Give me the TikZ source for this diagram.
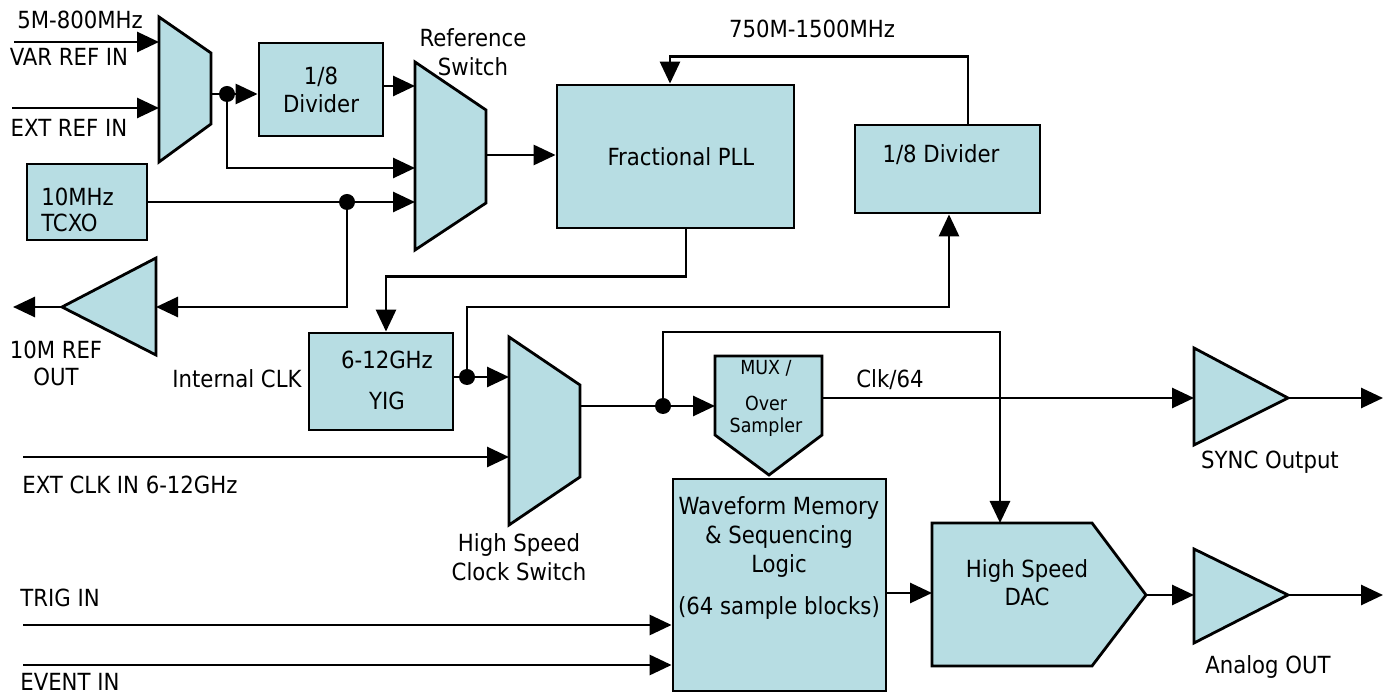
\documentclass[tikz,border=0pt]{standalone}
\usepackage{fontspec}
\setmainfont{DejaVu Sans Condensed}
\usetikzlibrary{arrows.meta}
\definecolor{boxfill}{RGB}{183,221,227}
\begin{document}
\begin{tikzpicture}[x=0.5pt,y=-0.5pt,
  wire/.style={line width=1.4pt},
  arr/.style={wire,-{Triangle[length=11pt,width=10pt]}},
  blk/.style={draw,fill=boxfill,line width=1.4pt,inner sep=0pt,font=\fontsize{11.8}{14}\selectfont,align=center},
  shp/.style={draw,fill=boxfill,line width=1.4pt},
  jdot/.style={circle,fill=black,inner sep=0pt,minimum size=8pt},
  lbl/.style={inner sep=0pt,font=\fontsize{11.8}{14}\selectfont,align=center},
  small/.style={inner sep=0pt,font=\fontsize{9.7}{11}\selectfont,align=center}]
\useasboundingbox (0,0) rectangle (1387,694);

% ---- shapes ----
\draw[shp] (159,17) -- (211,53) -- (211,124) -- (159,162) -- cycle;       % input mux
\draw[shp] (415,62) -- (486,110) -- (486,203) -- (415,250) -- cycle;      % reference switch
\draw[shp] (509,337) -- (580,385) -- (580,477) -- (509,525) -- cycle;     % high speed clock switch
\draw[shp] (156,258) -- (62,307) -- (156,355) -- cycle;                   % 10M ref amp
\draw[shp] (1194,348) -- (1288,398) -- (1194,445) -- cycle;               % sync amp
\draw[shp] (1194,549) -- (1288,595) -- (1194,643) -- cycle;               % analog amp
\draw[shp] (715,356) -- (822,356) -- (822,435) -- (769,475) -- (715,435) -- cycle; % mux/oversampler
\draw[shp] (932,523) -- (1092,523) -- (1146,595) -- (1092,666) -- (932,666) -- cycle; % DAC

\node[blk,minimum width=62pt,minimum height=46.5pt] (div1) at (321,89.5) {1/8\\Divider};
\node[blk,minimum width=60pt,minimum height=38pt] (tcxo) at (87,202) {};
\node[blk,minimum width=118.5pt,minimum height=71.5pt] (pll) at (675.5,156.5) {};
\node[blk,minimum width=92.5pt,minimum height=44pt] (div2) at (947.5,169) {};
\node[blk,minimum width=72pt,minimum height=48.5pt] (yig) at (381,381.5) {};
\node[blk,minimum width=106.5pt,minimum height=106pt] (wf) at (779.5,585) {};

% ---- texts inside ----
\node[lbl,align=left,anchor=west] (tcxotxt) at (41,210) {10MHz\\[-1pt]TCXO};
\node[lbl] (plltxt) at (681,157) {Fractional PLL};
\node[lbl] (div2txt) at (941,155) {1/8 Divider};
\node[lbl] (yigtxt) at (387,380.5) {6-12GHz\\[6.5pt]YIG};
\node[lbl] (wftxt) at (779,558) {Waveform Memory\\[0.5pt]\&\ Sequencing\\[0.5pt]Logic\\[7pt](64 sample blocks)};
\node[small] (muxt1) at (766,368) {MUX /};
\node[small] (muxt2) at (766,403) {Over};
\node[small] (muxt3) at (766,427) {Sampler};
\node[lbl] (dactxt) at (1027,583) {High Speed\\DAC};

% ---- outside labels ----
\node[lbl] (t5m) at (80,20) {5M-800MHz};
\node[lbl] (tvar) at (69,57) {VAR REF IN};
\node[lbl] (text) at (69,128) {EXT REF IN};
\node[lbl] (tref) at (473,52) {Reference\\[0.5pt]Switch};
\node[lbl] (t750) at (812,29) {750M-1500MHz};
\node[lbl] (t10m) at (56,363) {10M REF\\[-0.5pt]OUT};
\node[lbl] (tint) at (237,379) {Internal CLK};
\node[lbl,anchor=west] (textclk) at (22,485) {EXT CLK IN 6-12GHz};
\node[lbl] (ths) at (519,557) {High Speed\\[0.5pt]Clock Switch};
\node[lbl,anchor=west] (ttrig) at (20,598) {TRIG IN};
\node[lbl,anchor=west] (tevent) at (20,682) {EVENT IN};
\node[lbl] (tclk) at (890,380) {Clk/64};
\node[lbl] (tsync) at (1270,462) {SYNC Output};
\node[lbl] (tana) at (1268,667) {Analog OUT};

% ---- ports and junctions ----
\coordinate (varin) at (14,42);
\coordinate (extin) at (12,108);
\coordinate (m1a) at (159,42);
\coordinate (m1b) at (159,108);
\coordinate (m1o) at (211,94);
\node[jdot] (d1) at (227,94) {};
\coordinate (rs1) at (415,86);
\coordinate (rs2) at (415,168);
\coordinate (rs3) at (415,202);
\coordinate (rso) at (486,155);
\node[jdot] (d2) at (347,202) {};
\coordinate (ampin) at (156,307);
\coordinate (ampout) at (62,307);
\coordinate (refout) at (13,307);
\coordinate (hsa) at (509,377);
\coordinate (hsb) at (509,457);
\coordinate (hso) at (580,406);
\coordinate (extclk) at (23,457);
\node[jdot] (d3) at (467,377) {};
\node[jdot] (d4) at (663,406) {};
\coordinate (muxin) at (715,406);
\coordinate (muxout) at (822,398);
\coordinate (syncin) at (1194,398);
\coordinate (syncout) at (1288,398);
\coordinate (syncend) at (1383,398);
\coordinate (dactop) at (1000,523);
\coordinate (dacin) at (932,593);
\coordinate (dacout) at (1146,595);
\coordinate (anain) at (1194,595);
\coordinate (anaout) at (1288,595);
\coordinate (anaend) at (1383,595);
\coordinate (trig) at (23,625);
\coordinate (event) at (23,665);

% ---- connectors ----
\draw[arr] (varin) -- (m1a);
\draw[arr] (extin) -- (m1b);
\draw[arr] (m1o) -- (m1o -| div1.west);
\draw[arr] (d1.center) |- (rs2);
\draw[arr] (div1.east |- rs1) -- (rs1);
\draw[arr] (tcxo.east) -- (rs3);
\draw[arr] (d2.center) |- (ampin);
\draw[arr] (ampout) -- (refout);
\draw[arr] (rso) -- (rso -| pll.west);
\draw[arr] ([xshift=5.25pt]pll.south) -- ++(0,47) -| ([xshift=2.5pt]yig.north);
\draw[arr] ([xshift=10.25pt]div2.north) -- ++(0,-67) -| ([xshift=-2.75pt]pll.north);
\draw[arr] (yig.east |- hsa) -- (hsa);
\draw[arr] (d3.center) -- ++(0,-70) -| ([xshift=0.75pt]div2.south);
\draw[arr] (extclk) -- (hsb);
\draw[wire] (hso) -- (d4.center);
\draw[arr] (d4.center) -- (muxin);
\draw[arr] (d4.center) -- ++(0,-74) -| (dactop);
\draw[arr] (muxout) -- (syncin);
\draw[arr] (syncout) -- (syncend);
\draw[arr] (trig) -- (trig -| wf.west);
\draw[arr] (event) -- (event -| wf.west);
\draw[arr] (wf.east |- dacin) -- (dacin);
\draw[arr] (dacout) -- (anain);
\draw[arr] (anaout) -- (anaend);
\end{tikzpicture}
\end{document}
